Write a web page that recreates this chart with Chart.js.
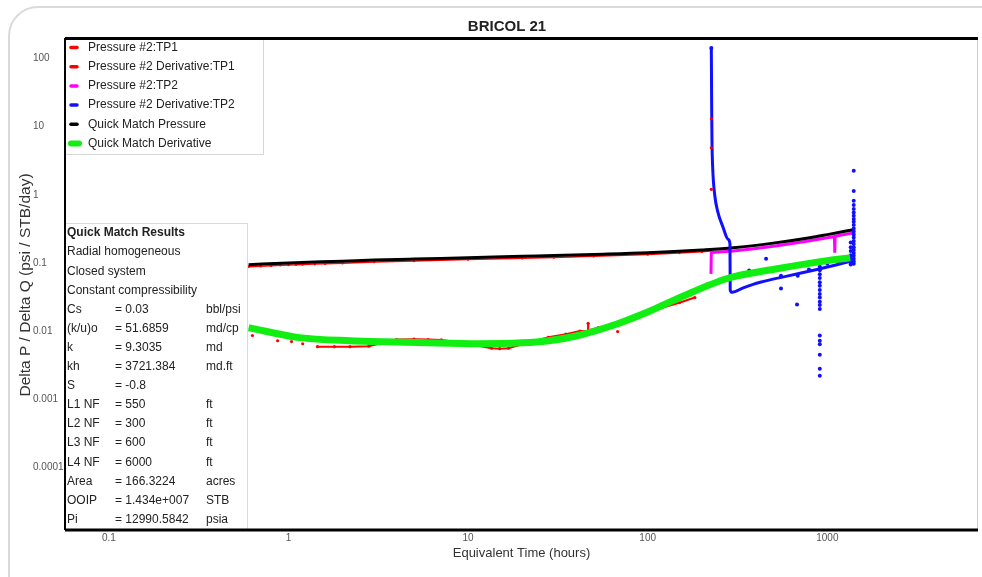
<!DOCTYPE html>
<html><head><meta charset="utf-8"><title>BRICOL 21</title>
<script src="https://cdn.jsdelivr.net/npm/chart.js@4/dist/chart.umd.min.js"></script>
<style>
html,body{margin:0;padding:0;background:#fff;overflow:hidden}
#card{position:absolute;left:8px;top:6px;width:1020px;height:610px;border:2px solid #dadada;border-radius:30px;box-sizing:border-box}
#c{position:absolute;left:0;top:0}
</style></head><body>
<div id="card"></div>
<canvas id="c" width="982" height="577"></canvas>
<script>
// axis ticks
const xTicks=[0.1,1,10,100,1000];
const xTickLabels=['0.1','1','10','100','1000'];
const yTicks=[0.0001,0.001,0.01,0.1,1,10,100];
const yTickLabels=['0.0001','0.001','0.01','0.1','1','10','100'];

// quick match model
const qmTime=[0.6,1,2,3,5,10,20,30,50,100,200,300,500,800,1000,1400];
const qmPressure=[0.094,0.100,0.106,0.110,0.114,0.119,0.125,0.128,0.133,0.141,0.155,0.167,0.195,0.234,0.26,0.307];
const qmDerivTime=[0.6,1.15,2.2,5.3,11.4,20,28,41,68,100,147,277,526,1000,1340];
const qmDeriv=[0.0112,0.0080,0.0072,0.0068,0.0065,0.0067,0.0072,0.0086,0.0128,0.019,0.030,0.059,0.082,0.108,0.119];

// test period 1 (null = gap)
const tp1Time=[0.6,0.7,0.8,0.9,1.0,1.1,1.2,1.4,1.6,2,3,5,10,20,30,50,100,150,200,225];
const tp1Pressure=[0.088,0.0895,0.091,0.0925,0.0935,0.094,0.095,0.096,0.097,0.099,0.103,0.107,0.112,0.117,0.120,0.125,0.133,0.140,0.146,0.150];
const tp1DerivTime=[0.63,0.7,0.87,0.95,1.04,1.1,1.2,1.3,1.45,1.8,2.2,2.8,3.4,4.0,5.0,6.0,7.1,9.0,11,13.5,15,16.8,20,24,28,35,42,46.5,46.6,46.7,53,60,68,70,90,120,150,183,200,226,226,226,226,226];
const tp1Deriv=[0.0086,null,0.0072,null,0.0070,null,0.0065,null,0.0059,0.0059,0.0059,0.0060,0.0068,0.0075,0.0076,0.0075,0.0074,0.0068,0.0062,0.0056,0.0055,0.0056,0.0064,0.0072,0.0081,0.0090,0.0100,0.0099,0.0130,0.0102,0.0112,null,0.0098,null,0.017,0.022,0.026,0.031,null,1.2,null,4.9,null,13];

// test period 2
const tp2Time=[225,226,250,300,400,500,650,800,1000,1095,1100,1105,1200,1400];
const tp2Pressure=[0.069,0.142,0.145,0.150,0.163,0.176,0.194,0.211,0.234,0.244,0.141,0.246,0.256,0.276];
const tp2DerivTime=[226,226.5,227,228,230,236,246,262,281,287,288,295,340,423,597,875,1130,1330];
const tp2Deriv=[143,60,20,6,2.5,1.0,0.55,0.34,0.22,0.19,0.040,0.037,0.043,0.052,0.064,0.080,0.094,0.105];
const tp2DotTime=[226,367,456,456,552,552,678,684,790,790,1000,1150,
  908,908,908,908,908,908,908,908,908,908,908,908,908,908,908,908,908,908,
  1403,1403,1403,1403,1403,1403,1403,1403,1403,1403,1403,1403,1403,1403,1403,1403,1403,1403,1403,1403,1403,1403,1403,
  1350,1350,1350,1350,1350,1350,1350];
const tp2Dot=[143,0.077,0.115,0.077,0.042,0.065,0.0244,0.065,0.101,0.080,0.097,0.100,
  0.088,0.078,0.068,0.060,0.052,0.046,0.040,0.035,0.031,0.027,0.024,0.021,0.0086,0.0072,0.0064,0.0045,0.0028,0.0022,
  2.25,1.14,0.82,0.71,0.62,0.55,0.49,0.44,0.40,0.36,0.32,0.29,0.26,0.235,0.21,0.19,0.17,0.155,0.14,0.127,0.115,0.105,0.097,
  0.20,0.17,0.15,0.13,0.115,0.103,0.095];

// results panel
const resultsHead=['Radial homogeneous','Closed system','Constant compressibility'];
const resultNames=['Cs','(k/u)o','k','kh','S','L1 NF','L2 NF','L3 NF','L4 NF','Area','OOIP','Pi'];
const resultValues=['= 0.03','= 51.6859','= 9.3035','= 3721.384','= -0.8','= 550','= 300','= 600','= 6000','= 166.3224','= 1.434e+007','= 12990.5842'];
const resultUnits=['bbl/psi','md/cp','md','md.ft','','ft','ft','ft','ft','acres','STB','psia'];

const FONT='"Liberation Sans",Arial,sans-serif';
const pts=(ts,vs)=>ts.map((t,i)=>({x:t,y:vs[i]}));

const boxes={id:'boxes',
  afterDatasetsDraw(c){
    const x=c.ctx,a=c.chartArea; x.save();
    // legend
    x.fillStyle='#fff'; x.strokeStyle='#d6d6d6'; x.lineWidth=1;
    x.fillRect(a.left,a.top,198,116); x.strokeRect(a.left+.5,a.top+.5,198,116);
    x.font='12px '+FONT; x.textBaseline='middle'; x.textAlign='left';
    c.data.datasets.filter(d=>d.label).forEach((d,i)=>{
      const y=a.top+9.5+19.2*i;
      x.strokeStyle=d.borderColor; x.lineCap='round'; x.lineWidth=d.borderWidth>4?6:3.5;
      x.beginPath(); x.moveTo(71,y); x.lineTo(d.borderWidth>4?79:77,y); x.stroke();
      x.fillStyle='#222'; x.fillText(d.label,88,y);
    });
    // quick match results
    const top=223;
    x.fillStyle='#fff'; x.strokeStyle='#dadada'; x.lineWidth=1;
    x.fillRect(a.left,top,182,a.bottom-top); x.strokeRect(a.left+.5,top+.5,182,a.bottom-top);
    x.fillStyle='#222';
    x.font='bold 12px '+FONT; x.fillText('Quick Match Results',67,top+10);
    x.font='12px '+FONT;
    resultsHead.forEach((s,i)=>x.fillText(s,67,top+10+19.1*(i+1)));
    resultNames.forEach((s,i)=>{
      const y=top+10+19.1*(i+4);
      x.fillText(s,67,y); x.fillText(resultValues[i],115,y); x.fillText(resultUnits[i],206,y);
    });
    x.restore();
  },
  afterDraw(c){
    const x=c.ctx,a=c.chartArea; x.save();
    x.strokeStyle='#ccc'; x.lineWidth=1;
    x.beginPath(); x.moveTo(a.right-.5,a.top); x.lineTo(a.right-.5,a.bottom); x.stroke();
    x.strokeStyle='#000'; x.lineWidth=3;
    x.beginPath(); x.moveTo(a.left,a.top+.5); x.lineTo(a.right,a.top+.5);
    x.moveTo(a.left,a.bottom); x.lineTo(a.right,a.bottom); x.stroke();
    x.lineWidth=2; x.beginPath(); x.moveTo(a.left,a.top); x.lineTo(a.left,a.bottom); x.stroke();
    // y axis title
    x.translate(26,285); x.rotate(-Math.PI/2);
    x.font='15.5px '+FONT; x.fillStyle='#333'; x.textAlign='center'; x.textBaseline='middle';
    x.fillText('Delta P / Delta Q (psi / STB/day)',0,0);
    x.restore();
  }
};

const line=(label,ts,vs,color,w,order,extra)=>Object.assign({label,data:pts(ts,vs),borderColor:color,backgroundColor:color,
  borderWidth:w,pointRadius:0,pointBorderWidth:0,tension:0,order,spanGaps:false},extra||{});

new Chart(document.getElementById('c'),{
  type:'line',
  data:{datasets:[
    line('Pressure #2:TP1',tp1Time,tp1Pressure,'#ff0000',1.5,6,{pointRadius:1.3}),
    line('Pressure #2 Derivative:TP1',tp1DerivTime,tp1Deriv,'#ff0000',2,1,{pointRadius:1.6}),
    line('Pressure #2:TP2',tp2Time,tp2Pressure,'#ff00ff',3,5),
    line('Pressure #2 Derivative:TP2',tp2DerivTime,tp2Deriv,'#1010ff',3,3,{cubicInterpolationMode:'monotone'}),
    line('Quick Match Pressure',qmTime,qmPressure,'#000000',3,4,{cubicInterpolationMode:'monotone'}),
    line('Quick Match Derivative',qmDerivTime,qmDeriv,'#11ee11',7,0,{cubicInterpolationMode:'monotone'}),
    line('',tp2DotTime,tp2Dot,'#1010ff',0,2,{showLine:false,pointRadius:2})
  ]},
  options:{
    responsive:false,animation:false,devicePixelRatio:1,
    layout:{padding:{left:33,right:1,top:18,bottom:0}},
    plugins:{legend:{display:false},tooltip:{enabled:false},
      title:{display:true,text:'BRICOL 21',color:'#222',font:{family:FONT,size:15,weight:'bold'},padding:{top:0,bottom:2}}},
    scales:{
      x:{type:'logarithmic',min:0.057,max:6900,
        afterBuildTicks:s=>{s.ticks=xTicks.map(v=>({value:v}));},
        afterFit:s=>{s.height=47;},
        grid:{display:false},border:{display:false},
        ticks:{autoSkip:false,maxRotation:0,padding:-6,color:'#555',font:{family:FONT,size:10},callback:(v,i)=>xTickLabels[i]},
        title:{display:true,text:'Equivalent Time (hours)',color:'#333',font:{family:FONT,size:13},padding:{top:0,bottom:16}}},
      y:{type:'logarithmic',min:1.2e-5,max:200,
        afterBuildTicks:s=>{s.ticks=yTicks.map(v=>({value:v}));},
        afterFit:s=>{s.width=32;},
        grid:{display:false},border:{display:false},
        ticks:{autoSkip:false,crossAlign:'far',color:'#555',font:{family:FONT,size:10},callback:(v,i)=>yTickLabels[i]}}
    }
  },
  plugins:[boxes]
});
</script></body></html>
